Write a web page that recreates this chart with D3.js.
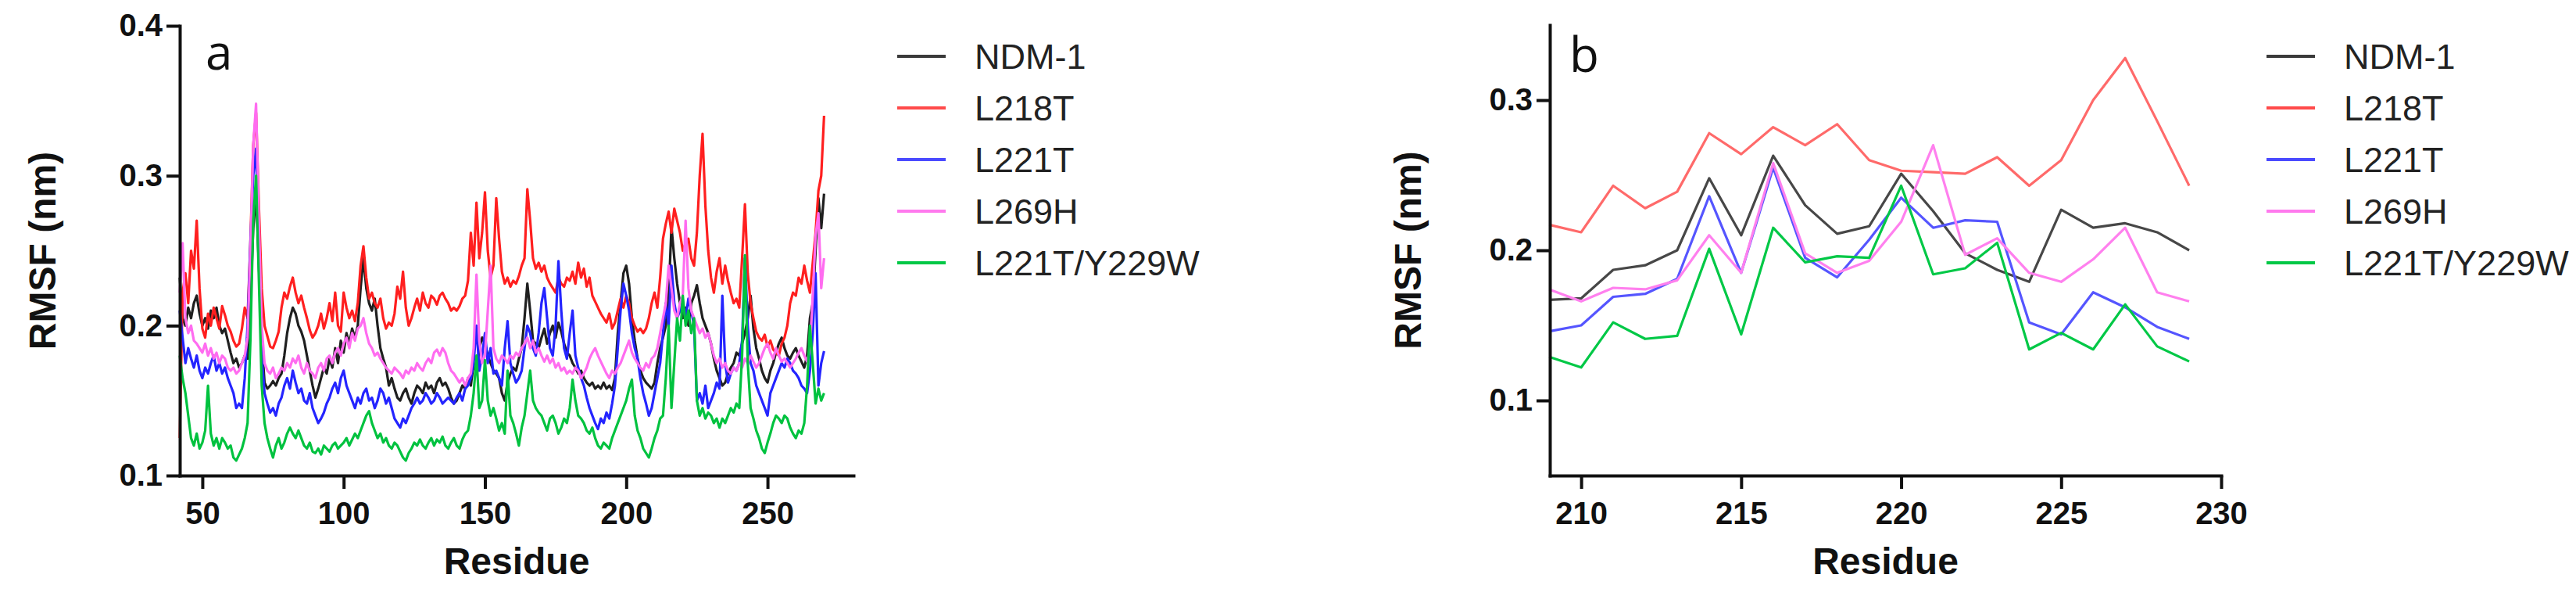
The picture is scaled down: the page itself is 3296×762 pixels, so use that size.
<!DOCTYPE html>
<html>
<head>
<meta charset="utf-8">
<script src="https://cdn.jsdelivr.net/npm/d3@7"></script>
<style>
  body { margin: 0; background: #fff; }
  .axis path, .axis line { stroke: #111; stroke-width: 4; }
  .axis path { stroke-linecap: square; }
  .axis text { font-family: "Liberation Sans", Arial, sans-serif; font-weight: bold; font-size: 40px; fill: #111; }
  .title { font-family: "Liberation Sans", Arial, sans-serif; font-weight: bold; font-size: 48px; fill: #111; }
  .legend text { font-family: "Liberation Sans", Arial, sans-serif; font-size: 45px; fill: #222; }
  .panel-label { font-family: "Open Sans", sans-serif; font-size: 62px; fill: #111; }
</style>
</head>
<body>
<div id="chart"></div>
<script>

// series names, shared by both panels
var seriesNames = ["NDM-1", "L218T", "L221T", "L269H", "L221T/Y229W"];

// panel a: RMSF per residue, residues 42..270
var residuesA = d3.range(42, 271);

var ndm1A = [
  0.232, 0.205, 0.200, 0.212, 0.205, 0.215, 0.220, 0.208,
  0.200, 0.205, 0.198, 0.210, 0.205, 0.212, 0.200, 0.195, 0.198, 0.190,
  0.182, 0.175, 0.178, 0.172, 0.175, 0.180, 0.178, 0.215, 0.265, 0.288,
  0.240, 0.190, 0.162, 0.158, 0.160, 0.163, 0.160, 0.165, 0.168, 0.180,
  0.195, 0.205, 0.212, 0.208, 0.200, 0.196, 0.190, 0.180, 0.170, 0.160,
  0.152, 0.158, 0.165, 0.172, 0.168, 0.178, 0.172, 0.185, 0.175, 0.190,
  0.182, 0.195, 0.188, 0.198, 0.192, 0.200, 0.225, 0.245, 0.225, 0.215,
  0.210, 0.218, 0.200, 0.185, 0.178, 0.172, 0.160, 0.165, 0.158, 0.152,
  0.150, 0.155, 0.158, 0.152, 0.148, 0.155, 0.160, 0.158, 0.155, 0.162,
  0.158, 0.160, 0.155, 0.162, 0.165, 0.160, 0.162, 0.158, 0.152, 0.148,
  0.150, 0.155, 0.160, 0.158, 0.165, 0.160, 0.175, 0.168, 0.185, 0.192,
  0.188, 0.180, 0.175, 0.170, 0.168, 0.165, 0.155, 0.150, 0.162, 0.168,
  0.172, 0.170, 0.178, 0.185, 0.205, 0.228, 0.210, 0.190, 0.188, 0.185,
  0.192, 0.198, 0.188, 0.195, 0.200, 0.192, 0.202, 0.196, 0.188, 0.182,
  0.180, 0.175, 0.172, 0.168, 0.170, 0.165, 0.162, 0.160, 0.162, 0.158,
  0.160, 0.158, 0.162, 0.158, 0.160, 0.157, 0.165, 0.195, 0.215, 0.235,
  0.240, 0.228, 0.205, 0.190, 0.178, 0.170, 0.165, 0.162, 0.160, 0.158,
  0.162, 0.175, 0.185, 0.192, 0.200, 0.220, 0.266, 0.245, 0.228, 0.215,
  0.205, 0.212, 0.200, 0.215, 0.220, 0.227, 0.215, 0.205, 0.200, 0.195,
  0.188, 0.178, 0.170, 0.165, 0.160, 0.162, 0.168, 0.172, 0.175, 0.182,
  0.180, 0.188, 0.195, 0.205, 0.220, 0.198, 0.185, 0.178, 0.170, 0.165,
  0.162, 0.170, 0.175, 0.182, 0.188, 0.192, 0.185, 0.180, 0.178, 0.182,
  0.185, 0.180, 0.176, 0.172, 0.180, 0.205, 0.215, 0.250, 0.285, 0.265,
  0.288
];

var l218tA = [
  0.125, 0.222, 0.235, 0.215, 0.250, 0.238, 0.270, 0.225,
  0.198, 0.192, 0.208, 0.200, 0.212, 0.205, 0.198, 0.213, 0.207, 0.200,
  0.196, 0.190, 0.186, 0.188, 0.198, 0.212, 0.205, 0.255, 0.320, 0.342,
  0.280, 0.225, 0.200, 0.193, 0.186, 0.185, 0.190, 0.196, 0.212, 0.222,
  0.218, 0.226, 0.232, 0.222, 0.215, 0.220, 0.212, 0.205, 0.197, 0.192,
  0.195, 0.200, 0.208, 0.198, 0.205, 0.215, 0.203, 0.222, 0.200, 0.196,
  0.222, 0.212, 0.205, 0.210, 0.203, 0.215, 0.240, 0.253, 0.232, 0.218,
  0.222, 0.215, 0.212, 0.218, 0.205, 0.198, 0.202, 0.200, 0.208, 0.226,
  0.218, 0.236, 0.212, 0.200, 0.205, 0.212, 0.218, 0.210, 0.222, 0.215,
  0.212, 0.220, 0.218, 0.214, 0.220, 0.222, 0.218, 0.215, 0.210, 0.212,
  0.210, 0.213, 0.218, 0.220, 0.230, 0.262, 0.240, 0.282, 0.245, 0.262,
  0.289, 0.250, 0.232, 0.240, 0.285, 0.258, 0.236, 0.228, 0.232, 0.226,
  0.230, 0.228, 0.233, 0.240, 0.245, 0.291, 0.270, 0.245, 0.238, 0.242,
  0.236, 0.240, 0.232, 0.228, 0.225, 0.222, 0.232, 0.228, 0.226, 0.232,
  0.230, 0.236, 0.228, 0.242, 0.232, 0.238, 0.226, 0.232, 0.220, 0.216,
  0.212, 0.208, 0.205, 0.202, 0.208, 0.198, 0.202, 0.210, 0.218, 0.212,
  0.220, 0.215, 0.205, 0.200, 0.196, 0.198, 0.195, 0.198, 0.205, 0.215,
  0.222, 0.212, 0.232, 0.258, 0.268, 0.276, 0.262, 0.278, 0.270, 0.262,
  0.250, 0.255, 0.258, 0.245, 0.240, 0.262, 0.300, 0.328, 0.280, 0.250,
  0.232, 0.222, 0.236, 0.245, 0.228, 0.240, 0.230, 0.222, 0.215, 0.218,
  0.212, 0.245, 0.281, 0.235, 0.215, 0.205, 0.196, 0.192, 0.190, 0.194,
  0.186, 0.190, 0.184, 0.182, 0.180, 0.188, 0.192, 0.200, 0.215, 0.222,
  0.220, 0.232, 0.228, 0.240, 0.230, 0.222, 0.242, 0.262, 0.290, 0.300,
  0.340
];

var l221tA = [
  0.210, 0.192, 0.175, 0.185, 0.178, 0.172, 0.180, 0.170,
  0.165, 0.172, 0.168, 0.175, 0.180, 0.170, 0.175, 0.168, 0.172, 0.165,
  0.160, 0.155, 0.145, 0.148, 0.145, 0.165, 0.200, 0.255, 0.300, 0.318,
  0.250, 0.180, 0.155, 0.148, 0.142, 0.145, 0.140, 0.148, 0.152, 0.160,
  0.165, 0.158, 0.170, 0.162, 0.155, 0.158, 0.150, 0.148, 0.155, 0.145,
  0.140, 0.135, 0.138, 0.142, 0.148, 0.152, 0.158, 0.162, 0.155, 0.165,
  0.170, 0.160, 0.155, 0.150, 0.145, 0.152, 0.148, 0.155, 0.158, 0.150,
  0.152, 0.145, 0.150, 0.158, 0.155, 0.148, 0.152, 0.145, 0.138, 0.135,
  0.132, 0.138, 0.135, 0.140, 0.145, 0.148, 0.152, 0.148, 0.150, 0.155,
  0.152, 0.148, 0.150, 0.155, 0.152, 0.148, 0.150, 0.152, 0.150, 0.148,
  0.152, 0.155, 0.150, 0.158, 0.160, 0.165, 0.175, 0.200, 0.170, 0.180,
  0.195, 0.175, 0.185, 0.168, 0.170, 0.165, 0.160, 0.185, 0.203, 0.175,
  0.168, 0.162, 0.165, 0.170, 0.185, 0.200, 0.195, 0.185, 0.180, 0.195,
  0.215, 0.225, 0.205, 0.185, 0.180, 0.200, 0.243, 0.210, 0.185, 0.178,
  0.195, 0.210, 0.180, 0.172, 0.165, 0.160, 0.152, 0.145, 0.140, 0.135,
  0.131, 0.138, 0.135, 0.142, 0.138, 0.148, 0.160, 0.185, 0.210, 0.228,
  0.220, 0.210, 0.195, 0.185, 0.178, 0.165, 0.155, 0.148, 0.140, 0.145,
  0.155, 0.165, 0.175, 0.195, 0.215, 0.200, 0.240, 0.215, 0.205, 0.210,
  0.215, 0.205, 0.218, 0.210, 0.200, 0.150, 0.155, 0.148, 0.160, 0.145,
  0.150, 0.155, 0.162, 0.158, 0.220, 0.175, 0.162, 0.168, 0.172, 0.170,
  0.175, 0.190, 0.245, 0.200, 0.175, 0.170, 0.160, 0.155, 0.150, 0.145,
  0.140, 0.155, 0.160, 0.165, 0.170, 0.175, 0.172, 0.178, 0.175, 0.170,
  0.168, 0.165, 0.160, 0.158, 0.155, 0.170, 0.195, 0.235, 0.160, 0.175,
  0.183
];

var l269hA = [
  0.222, 0.255, 0.205, 0.195, 0.200, 0.190, 0.188, 0.185,
  0.182, 0.188, 0.180, 0.185, 0.178, 0.182, 0.175, 0.180, 0.178, 0.172,
  0.170, 0.172, 0.168, 0.170, 0.175, 0.180, 0.192, 0.250, 0.320, 0.348,
  0.270, 0.200, 0.175, 0.170, 0.168, 0.172, 0.165, 0.168, 0.172, 0.170,
  0.175, 0.172, 0.178, 0.175, 0.180, 0.172, 0.168, 0.175, 0.170, 0.168,
  0.165, 0.172, 0.175, 0.170, 0.178, 0.180, 0.175, 0.182, 0.185, 0.180,
  0.188, 0.192, 0.185, 0.195, 0.190, 0.198, 0.200, 0.205, 0.195, 0.188,
  0.185, 0.180, 0.182, 0.178, 0.175, 0.172, 0.170, 0.168, 0.172, 0.170,
  0.168, 0.165, 0.170, 0.168, 0.172, 0.170, 0.175, 0.172, 0.170, 0.175,
  0.178, 0.175, 0.182, 0.184, 0.180, 0.185, 0.182, 0.175, 0.170, 0.168,
  0.165, 0.162, 0.165, 0.160, 0.165, 0.168, 0.185, 0.234, 0.190, 0.175,
  0.180, 0.210, 0.240, 0.185, 0.178, 0.175, 0.180, 0.178, 0.175, 0.180,
  0.178, 0.182, 0.180, 0.185, 0.188, 0.192, 0.185, 0.190, 0.182, 0.185,
  0.180, 0.176, 0.180, 0.175, 0.178, 0.172, 0.175, 0.170, 0.172, 0.168,
  0.170, 0.168, 0.172, 0.170, 0.165, 0.168, 0.172, 0.178, 0.182, 0.185,
  0.180, 0.176, 0.172, 0.168, 0.165, 0.170, 0.168, 0.172, 0.175, 0.180,
  0.185, 0.190, 0.182, 0.178, 0.175, 0.172, 0.170, 0.175, 0.172, 0.178,
  0.180, 0.185, 0.195, 0.205, 0.215, 0.240, 0.225, 0.210, 0.205, 0.215,
  0.220, 0.270, 0.225, 0.210, 0.205, 0.200, 0.195, 0.198, 0.192, 0.195,
  0.188, 0.180, 0.175, 0.178, 0.172, 0.175, 0.170, 0.168, 0.172, 0.170,
  0.175, 0.172, 0.178, 0.175, 0.180, 0.176, 0.172, 0.175, 0.180, 0.185,
  0.188, 0.182, 0.178, 0.185, 0.180, 0.176, 0.178, 0.175, 0.172, 0.175,
  0.178, 0.182, 0.185, 0.180, 0.176, 0.185, 0.220, 0.260, 0.275, 0.225,
  0.245
];

var l221ty229wA = [
  0.180, 0.165, 0.155, 0.140, 0.125, 0.120, 0.128, 0.118,
  0.122, 0.130, 0.160, 0.128, 0.120, 0.125, 0.118, 0.125, 0.122, 0.118,
  0.120, 0.112, 0.110, 0.114, 0.118, 0.125, 0.135, 0.190, 0.270, 0.300,
  0.230, 0.160, 0.135, 0.125, 0.118, 0.112, 0.120, 0.125, 0.118, 0.122,
  0.128, 0.132, 0.128, 0.125, 0.130, 0.125, 0.120, 0.118, 0.122, 0.116,
  0.115, 0.118, 0.114, 0.120, 0.118, 0.116, 0.120, 0.122, 0.118, 0.120,
  0.122, 0.125, 0.120, 0.124, 0.128, 0.125, 0.130, 0.135, 0.140, 0.143,
  0.135, 0.130, 0.125, 0.128, 0.122, 0.125, 0.120, 0.118, 0.122, 0.120,
  0.116, 0.112, 0.110, 0.115, 0.118, 0.122, 0.120, 0.124, 0.120, 0.118,
  0.122, 0.125, 0.120, 0.124, 0.122, 0.126, 0.120, 0.118, 0.122, 0.125,
  0.120, 0.118, 0.124, 0.128, 0.130, 0.140, 0.155, 0.180, 0.145, 0.150,
  0.177, 0.150, 0.140, 0.145, 0.138, 0.130, 0.135, 0.128, 0.170, 0.140,
  0.135, 0.128, 0.120, 0.132, 0.140, 0.155, 0.170, 0.150, 0.145, 0.142,
  0.140, 0.135, 0.130, 0.138, 0.140, 0.135, 0.128, 0.132, 0.138, 0.135,
  0.145, 0.164, 0.150, 0.140, 0.138, 0.135, 0.130, 0.128, 0.132, 0.125,
  0.120, 0.118, 0.122, 0.120, 0.118, 0.125, 0.130, 0.135, 0.140, 0.145,
  0.150, 0.158, 0.164, 0.140, 0.130, 0.125, 0.118, 0.115, 0.112, 0.118,
  0.125, 0.130, 0.138, 0.140, 0.165, 0.200, 0.145, 0.175, 0.205, 0.190,
  0.220, 0.200, 0.210, 0.195, 0.205, 0.150, 0.140, 0.145, 0.138, 0.142,
  0.140, 0.135, 0.138, 0.132, 0.138, 0.135, 0.140, 0.145, 0.142, 0.148,
  0.145, 0.180, 0.247, 0.175, 0.145, 0.138, 0.130, 0.125, 0.118, 0.115,
  0.122, 0.128, 0.135, 0.140, 0.138, 0.135, 0.140, 0.138, 0.132, 0.128,
  0.125, 0.130, 0.128, 0.135, 0.160, 0.200, 0.175, 0.148, 0.158, 0.150,
  0.155
];

// panel b: zoom on residues 209..229
var residuesB = d3.range(209, 230);

var ndm1B = [0.167, 0.168, 0.187, 0.190, 0.200, 0.248, 0.210, 0.263, 0.230, 0.211, 0.216,
             0.251, 0.226, 0.198, 0.187, 0.179, 0.227, 0.215, 0.218, 0.212, 0.200];
var l218tB = [0.217, 0.212, 0.243, 0.228, 0.239, 0.278, 0.264, 0.282, 0.270, 0.284, 0.260,
              0.253, 0.252, 0.251, 0.262, 0.243, 0.260, 0.300, 0.328, 0.286, 0.243];
var l221tB = [0.146, 0.150, 0.169, 0.171, 0.181, 0.236, 0.185, 0.255, 0.195, 0.182, 0.207,
              0.235, 0.215, 0.220, 0.219, 0.152, 0.144, 0.172, 0.162, 0.149, 0.141];
var l269hB = [0.174, 0.166, 0.175, 0.174, 0.180, 0.210, 0.185, 0.258, 0.198, 0.185, 0.193,
              0.219, 0.270, 0.197, 0.208, 0.185, 0.179, 0.194, 0.215, 0.172, 0.166];
var l221ty229wB = [0.129, 0.122, 0.152, 0.141, 0.143, 0.201, 0.144, 0.215, 0.192, 0.196, 0.195,
                   0.243, 0.184, 0.188, 0.205, 0.134, 0.145, 0.134, 0.164, 0.136, 0.126];

// axis ticks
var xTicksA = [50, 100, 150, 200, 250];
var yTicksA = [0.1, 0.2, 0.3, 0.4];
var xTicksB = [210, 215, 220, 225, 230];
var yTicksB = [0.1, 0.2, 0.3];

var colorsA = ["#1f1f1f", "#ff1f1f", "#2424ff", "#ff6cf0", "#00c23f"];
var colorsB = ["#474747", "#ff6a6a", "#5555ff", "#ff80ee", "#00c846"];
var legendColors = ["#3a3a3a", "#ff4a4a", "#4a4aff", "#ff7aee", "#00c846"];

var svg = d3.select("#chart").append("svg")
    .attr("width", 3296)
    .attr("height", 762);

svg.append("rect")
    .attr("width", 3296)
    .attr("height", 762)
    .attr("fill", "#fff");

makePanel({
  left: 230, right: 1092, top: 33, bottom: 608,
  xDomain: [42, 280.4], yDomain: [0.1, 0.4],
  xTicks: xTicksA, yTicks: yTicksA,
  residues: residuesA,
  values: [ndm1A, l218tA, l221tA, l269hA, l221ty229wA],
  colors: colorsA,
  label: "a", labelX: 263, labelY: 89,
  yTitleX: 71,
  legendX: 1148
});

makePanel({
  left: 1983, right: 2842, top: 32, bottom: 608,
  xDomain: [209.02, 230], yDomain: [0.05, 0.35],
  xTicks: xTicksB, yTicks: yTicksB,
  residues: residuesB,
  values: [ndm1B, l218tB, l221tB, l269hB, l221ty229wB],
  colors: colorsB,
  label: "b", labelX: 2008, labelY: 92,
  yTitleX: 1818,
  legendX: 2900
});

function makePanel(p){
  var x = d3.scaleLinear()
      .domain(p.xDomain)
      .range([p.left, p.right]);

  var y = d3.scaleLinear()
      .domain(p.yDomain)
      .range([p.bottom, p.top]);

  var xAxis = d3.axisBottom(x)
      .tickValues(p.xTicks)
      .tickSize(17)
      .tickSizeOuter(0)
      .tickPadding(17)
      .tickFormat(d3.format("d"));

  var yAxis = d3.axisLeft(y)
      .tickValues(p.yTicks)
      .tickSize(17)
      .tickSizeOuter(0)
      .tickPadding(5)
      .tickFormat(d3.format(".1f"));

  var line = d3.line()
      .x(function(d){ return x(d[0]); })
      .y(function(d){ return y(d[1]); });

  // series lines
  p.values.forEach(function(vals, i){
    var pts = p.residues.map(function(r, j){ return [r, vals[j]]; });
    svg.append("path")
        .datum(pts)
        .attr("fill", "none")
        .attr("stroke", p.colors[i])
        .attr("stroke-width", 3.2)
        .attr("stroke-linejoin", "round")
        .attr("d", line);
  });

  svg.append("g")
      .attr("class", "x axis")
      .attr("transform", "translate(0," + p.bottom + ")")
      .call(xAxis);

  svg.append("g")
      .attr("class", "y axis")
      .attr("transform", "translate(" + p.left + ",0)")
      .call(yAxis);

  svg.selectAll(".axis text").attr("font-family", null);
  svg.selectAll(".axis text").attr("font-size", null);

  svg.append("text")
      .attr("class", "title")
      .attr("text-anchor", "middle")
      .attr("x", (p.left + p.right) / 2)
      .attr("y", 734)
      .text("Residue");

  svg.append("text")
      .attr("class", "title")
      .attr("text-anchor", "middle")
      .attr("transform", "translate(" + p.yTitleX + "," + ((p.top + p.bottom) / 2) + ") rotate(-90)")
      .text("RMSF (nm)");

  svg.append("text")
      .attr("class", "panel-label")
      .attr("x", p.labelX)
      .attr("y", p.labelY)
      .text(p.label);

  // legend
  var legend = svg.append("g")
      .attr("class", "legend");

  seriesNames.forEach(function(name, i){
    var ly = 72 + i * 66;
    legend.append("line")
        .attr("x1", p.legendX)
        .attr("x2", p.legendX + 62)
        .attr("y1", ly)
        .attr("y2", ly)
        .attr("stroke", legendColors[i])
        .attr("stroke-width", 4);
    legend.append("text")
        .attr("x", p.legendX + 99)
        .attr("y", ly)
        .attr("dy", "0.36em")
        .text(name);
  });
}

</script>
</body>
</html>
